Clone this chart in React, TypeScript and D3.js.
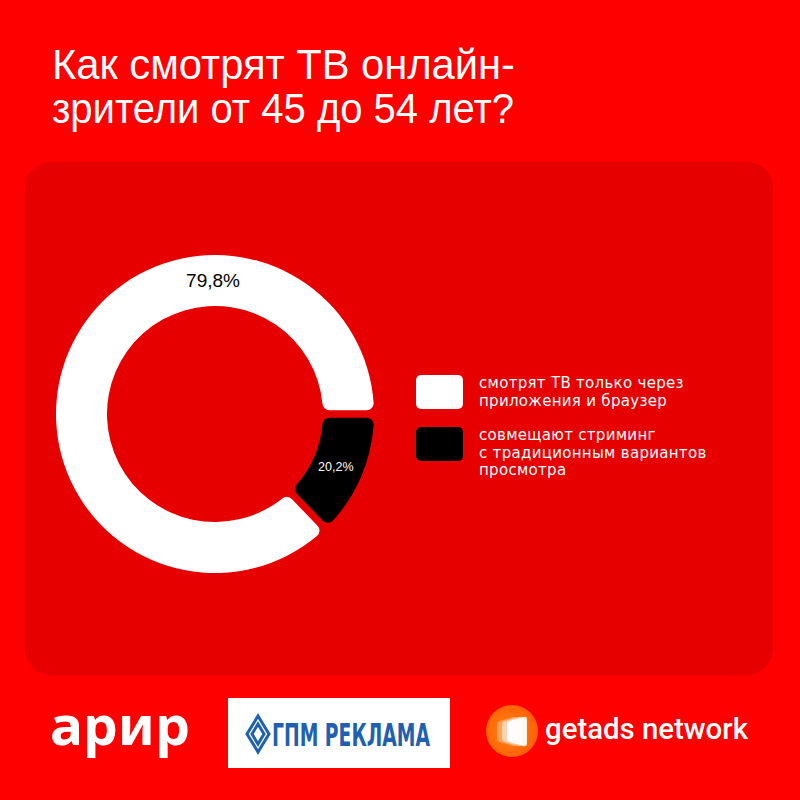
import React from "react";
import * as d3 from "d3";

// ---- data ----
const titleLines = ["Как смотрят ТВ онлайн-", "зрители от 45 до 54 лет?"];
const categories = ["only_apps", "mixed"];
const values = [79.8, 20.2];
const valueLabels = ["79,8%", "20,2%"];
// slice sweep as actually drawn in the reference picture (percent of circle)
const drawnShares = [87.2, 12.8];
const sliceColors = ["#ffffff", "#000000"];
const labelColors = ["#000000", "#ffffff"];
const legendLines = [
  ["смотрят ТВ только через", "приложения и браузер"],
  ["совмещают стриминг", "с традиционным вариантов", "просмотра"],
];
const logoTexts = ["арир", "ГПМ РЕКЛАМА", "getads network"];

const W = 800;
const H = 800;
const cx = 215;
const cy = 414;
const rOuter = 159;
const rInner = 108;

export default function App() {
  const order = [1, 0]; // black slice starts at 3 o'clock, white follows
  const pie = d3
    .pie<number>()
    .sort(null)
    .startAngle(Math.PI / 2)
    .endAngle(Math.PI / 2 + Math.PI * 2)
    .value((i) => drawnShares[i]);
  const arcs = pie(order);
  const arc = d3
    .arc<d3.PieArcDatum<number>>()
    .innerRadius(rInner)
    .outerRadius(rOuter)
    .cornerRadius(7)
    .padAngle(0.038);
  const midR = (rInner + rOuter) / 2;

  const font = "'Liberation Sans', Arial, sans-serif";
  const iconShape = (dx: number) =>
    `M${510 + dx},721 L${523 + dx},717 Q${527 + dx},716 ${527 + dx},720 L${527 + dx},743 Q${527 + dx},747 ${523 + dx},746 L${510 + dx},742 Q${507 + dx},741 ${507 + dx},738 L${507 + dx},725 Q${507 + dx},722 ${510 + dx},721 Z`;

  return (
    <svg
      width={W}
      height={H}
      viewBox={`0 0 ${W} ${H}`}
      style={{ position: "absolute", left: 0, top: 0, display: "block" }}
    >
      <defs>
        <radialGradient id="gaGrad" cx="45%" cy="50%" r="60%">
          <stop offset="0%" stopColor="#ff8a1a" />
          <stop offset="100%" stopColor="#ff5a00" />
        </radialGradient>
      </defs>
      <rect x={0} y={0} width={W} height={H} fill="#ff0000" />
      {/* title */}
      <g fontFamily={font} fill="#ffffff" fontSize={42}>
        <text x={52} y={79} textLength={463} lengthAdjust="spacingAndGlyphs">
          {titleLines[0]}
        </text>
        <text x={52} y={123} textLength={462} lengthAdjust="spacingAndGlyphs">
          {titleLines[1]}
        </text>
      </g>
      {/* panel */}
      <rect x={25} y={162} width={748} height={513} rx={26} fill="#e60000" />

      {/* donut */}
      <g transform={`translate(${cx},${cy})`}>
        {arcs.map((a) => (
          <path key={categories[a.data]} d={arc(a) || ""} fill={sliceColors[a.data]} />
        ))}
        {arcs.map((a) => {
          const i = a.data;
          let x: number, y: number;
          if (i === 0) {
            x = -2;
            y = -midR;
          } else {
            [x, y] = arc.centroid(a);
            x -= 2;
          }
          return (
            <text
              key={"l" + i}
              x={x}
              y={y}
              dy="0.36em"
              textAnchor="middle"
              fontFamily={font}
              fontSize={i === 0 ? 19 : 12.5}
              fill={labelColors[i]}
            >
              {valueLabels[i]}
            </text>
          );
        })}
      </g>

      {/* legend */}
      <g fontFamily="'DejaVu Sans', sans-serif" fontSize={15} fill="#ffffff" letterSpacing={0.3}>
        {legendLines.map((lines, i) => {
          const top = i === 0 ? 375 : 427;
          return (
            <g key={i}>
              <rect x={416} y={top} width={47} height={34} rx={5} fill={sliceColors[i]} />
              {lines.map((l, j) => (
                <text key={j} x={479} y={top + 13 + j * 17.6}>
                  {l}
                </text>
              ))}
            </g>
          );
        })}
      </g>

      {/* logos */}
      <text
        x={50}
        y={745}
        fontFamily="'Noto Sans', sans-serif"
        fontWeight={700}
        fontSize={54}
        fill="#ffffff"
        textLength={140}
        lengthAdjust="spacingAndGlyphs"
      >
        {logoTexts[0]}
      </text>

      <rect x={228} y={698} width={222} height={70} fill="#ffffff" />
      <g fill="none" stroke="#1f61b0" strokeWidth={3} strokeLinejoin="miter">
        <path d="M258,716 L269,734 L258,752 L247,734 Z" />
        <path d="M258,724 L264,734 L258,744 L252,734 Z" />
      </g>
      <text
        x={272}
        y={746}
        fontFamily="'Liberation Sans Narrow', 'DejaVu Sans Condensed', sans-serif"
        fontWeight={700}
        fontSize={32}
        fill="#1f61b0"
        textLength={158}
        lengthAdjust="spacingAndGlyphs"
      >
        {logoTexts[1]}
      </text>

      <circle cx={512} cy={731} r={26} fill="url(#gaGrad)" />
      <path d={iconShape(-10)} fill="#ffffff" opacity={0.3} />
      <path d={iconShape(-5)} fill="#ffffff" opacity={0.5} />
      <path d={iconShape(0)} fill="#ffffff" opacity={0.95} />
      <text
        x={545}
        y={739}
        fontFamily="Roboto, 'Noto Sans', sans-serif"
        fontWeight={500}
        fontSize={29}
        fill="#ffffff"
        textLength={203}
        lengthAdjust="spacingAndGlyphs"
      >
        {logoTexts[2]}
      </text>
    </svg>
  );
}
